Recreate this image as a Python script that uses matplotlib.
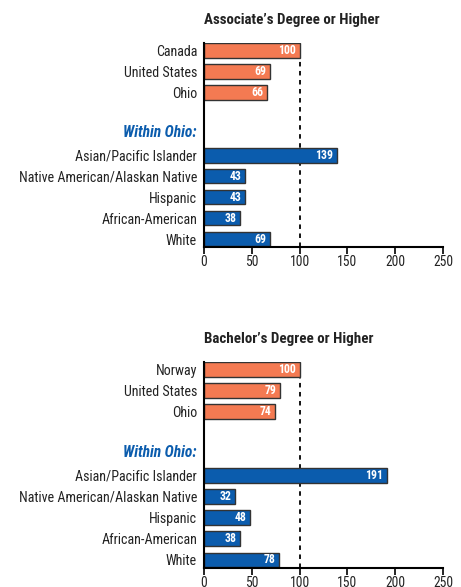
import matplotlib
matplotlib.use("Agg")
import matplotlib.pyplot as plt
from matplotlib import font_manager

# ── Data ──
assoc_labels = ["Canada", "United States", "Ohio"]
assoc_values = [100, 69, 66]
bach_labels = ["Norway", "United States", "Ohio"]
bach_values = [100, 79, 74]
group_labels = ["Asian/Pacific Islander", "Native American/Alaskan Native",
                "Hispanic", "African-American", "White"]
assoc_group_values = [139, 43, 43, 38, 69]
bach_group_values = [191, 32, 48, 38, 78]
x_ticks = [0, 50, 100, 150, 200, 250]

ORANGE = "#f47a52"
BLUE = "#0b5cad"
TEXT = "#222222"

# narrow face (with a real bold) if one is installed, else plain sans
weights = {}
for f in font_manager.fontManager.ttflist:
    w = f.weight if isinstance(f.weight, int) else (700 if "bold" in str(f.weight) else 400)
    weights.setdefault(f.name, set()).add(w)
candidates = ["Liberation Sans Narrow", "Arial Narrow", "Roboto Condensed", "PT Sans Narrow",
              "Archivo Narrow", "Open Sans Condensed", "Fira Sans Condensed",
              "IBM Plex Sans Condensed", "Encode Sans Condensed", "Barlow Semi Condensed",
              "Barlow Condensed", "Asap Condensed", "Sofia Sans Condensed", "Pragati Narrow"]
FONT = "Liberation Sans"
for c in candidates:
    ws = weights.get(c, set())
    if any(w >= 600 for w in ws) and any(w <= 450 for w in ws):
        FONT = c
        break
plt.rcParams["font.family"] = [FONT, "DejaVu Sans"]

fig = plt.figure(figsize=(4.61, 5.87), dpi=100)
renderer = fig.canvas.get_renderer()


def fit_size(s, target_px, weight="normal", style="normal"):
    t = fig.text(0, 0, s, fontsize=10, fontweight=weight, fontstyle=style)
    w = t.get_window_extent(renderer).width
    t.remove()
    return 10 * target_px / w


LABEL_FS = min(fit_size("Native American/Alaskan Native", 178), 13)
WITHIN_FS = min(fit_size("Within Ohio:", 74, "bold", "italic"), 13)
TITLE_FS = min(fit_size("Associate\u2019s Degree or Higher", 175, "bold"), 12.5)
TICK_FS = min(fit_size("250", 20), 13)
VALUE_FS = min(fit_size("139", 18, "bold"), 13)


def panel(rect, title, top_labels, top_values, grp_values):
    ax = fig.add_axes(rect)
    top_pos = [0, 1, 2]
    grp_pos = [5, 6, 7, 8, 9]
    ax.barh(top_pos, top_values, height=0.7, color=ORANGE,
            edgecolor="#333333", linewidth=1.0, zorder=2)
    ax.barh(grp_pos, grp_values, height=0.7, color=BLUE,
            edgecolor="#333333", linewidth=1.0, zorder=2)
    for p, v in zip(top_pos + grp_pos, list(top_values) + list(grp_values)):
        ax.annotate(str(v), (v, p), xytext=(-2.5, 0), textcoords="offset points",
                    ha="right", va="center", color="white", fontsize=VALUE_FS,
                    fontweight="bold", zorder=3)
    ax.axvline(100, color="black", linestyle=(0, (2.5, 2.5)), linewidth=1.3, zorder=1)

    ax.set_xlim(0, 250)
    ax.set_ylim(9.38, -0.35)
    ax.set_xticks(x_ticks)
    ax.set_xticklabels([str(t) for t in x_ticks], fontsize=TICK_FS, color=TEXT)
    # "Within Ohio:" sits a little above its slot
    ax.set_yticks(top_pos + [3.85] + grp_pos)
    ax.set_yticklabels(list(top_labels) + ["Within Ohio:"] + group_labels,
                       fontsize=LABEL_FS, color=TEXT)
    wl = ax.get_yticklabels()[3]
    wl.set_color(BLUE)
    wl.set_fontstyle("italic")
    wl.set_fontweight("bold")
    wl.set_fontsize(WITHIN_FS)
    ax.tick_params(axis="y", length=0, pad=5)
    ax.tick_params(axis="x", length=5, width=1.2, pad=1, direction="out")
    for s in ["top", "right"]:
        ax.spines[s].set_visible(False)
    ax.spines["left"].set_linewidth(1.5)
    ax.spines["bottom"].set_linewidth(1.5)
    ax.set_title(title, fontsize=TITLE_FS, fontweight="bold", loc="left", pad=14, color=TEXT)
    return ax


panel([0.4425, 0.5792, 0.5185, 0.3475], "Associate\u2019s Degree or Higher",
      assoc_labels, assoc_values, assoc_group_values)
panel([0.4425, 0.0324, 0.5185, 0.3509], "Bachelor\u2019s Degree or Higher",
      bach_labels, bach_values, bach_group_values)

fig.savefig("out.png", dpi=100)
